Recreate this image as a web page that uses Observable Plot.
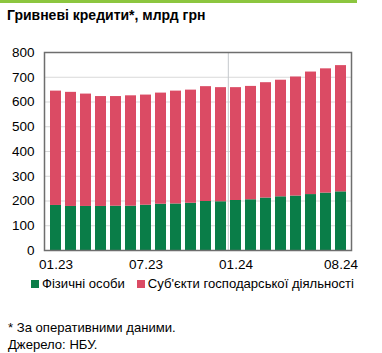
<!DOCTYPE html>
<html>
<head>
<meta charset="utf-8">
<script src="https://cdn.jsdelivr.net/npm/d3@7"></script>
<script src="https://cdn.jsdelivr.net/npm/@observablehq/plot@0.6"></script>
<style>
  html, body { margin: 0; padding: 0; background: #fff; }
  body { width: 382px; height: 353px; position: relative; overflow: hidden; font-family: "Liberation Sans", Arial, sans-serif; color: #000; }
  #strip { position: absolute; left: 0; top: 0; width: 357px; height: 3px; background: #8cc63f; }
  #title { position: absolute; left: 7px; top: 7px; font-size: 14px; font-weight: bold; }
  #chart { position: absolute; left: 0; top: 40px; }
  #legend { position: absolute; top: 276px; left: 31px; font-size: 13.1px; white-space: nowrap; display: flex; align-items: center; }
  .sw { display: inline-block; width: 8px; height: 8px; margin-right: 3px; }
  .item { display: inline-flex; align-items: center; margin-right: 12px; }
  #note { position: absolute; left: 8px; top: 319px; font-size: 13.1px; line-height: 17px; }
</style>
</head>
<body>
<div id="strip"></div>
<div id="title">Гривневі кредити*, млрд грн</div>
<div id="chart"></div>
<div id="legend"></div>
<div id="note">* За оперативними даними.<br>Джерело: НБУ.</div>
<script>
const months = ["01.23","02.23","03.23","04.23","05.23","06.23","07.23","08.23","09.23","10.23","11.23","12.23","01.24","02.24","03.24","04.24","05.24","06.24","07.24","08.24"];
const individuals = [182,178,178,178,179,179,183,187,188,191,198,197,202,205,212,217,220,226,232,237];
const businesses = [462,461,454,444,443,446,445,449,456,457,464,461,456,458,466,471,481,495,502,510];
const seriesNames = ["Фізичні особи", "Суб'єкти господарської діяльності"];
const seriesColors = ["#0a7d48", "#db4b64"];
const xTickLabels = ["01.23","07.23","01.24","08.24"];
const yTicks = [0,100,200,300,400,500,600,700,800];
const dividerMonth = "01.24";

const rows = [];
months.forEach((m, i) => {
  rows.push({month: m, series: seriesNames[0], value: individuals[i]});
  rows.push({month: m, series: seriesNames[1], value: businesses[i]});
});

const W = 382, mL = 44, mR = 31;
const step = (W - mL - mR) / months.length;

const plot = Plot.plot({
  width: W,
  height: 240,
  marginTop: 12,
  marginBottom: 30,
  marginLeft: mL,
  marginRight: mR,
  style: {fontFamily: "Liberation Sans, Arial, sans-serif", fontSize: "13.5px", color: "#000", background: "transparent"},
  x: {domain: months, paddingInner: 0.3, paddingOuter: 0.15, label: null},
  y: {domain: [0, 800], label: null},
  color: {domain: seriesNames, range: seriesColors},
  marks: [
    Plot.gridY(yTicks, {stroke: "#d9d9d9", strokeOpacity: 1}),
    Plot.ruleX([dividerMonth], {stroke: "#c4c8cc", strokeWidth: 1, dx: -step / 2}),
    Plot.barY(rows, {x: "month", y: "value", fill: "series", order: seriesNames}),
    Plot.axisY(yTicks, {tickSize: 0, tickPadding: 10, fontSize: 13.5, label: null}),
    Plot.axisX(xTickLabels, {tickSize: 0, tickPadding: 9, fontSize: 13.5, label: null}),
    Plot.frame({stroke: "#6e6e6e", strokeWidth: 1.5})
  ]
});
document.getElementById("chart").appendChild(plot);

const legend = document.getElementById("legend");
seriesNames.forEach((n, i) => {
  const it = document.createElement("span");
  it.className = "item";
  const sw = document.createElement("span");
  sw.className = "sw";
  sw.style.background = seriesColors[i];
  it.appendChild(sw);
  it.appendChild(document.createTextNode(n));
  legend.appendChild(it);
});
</script>
</body>
</html>
